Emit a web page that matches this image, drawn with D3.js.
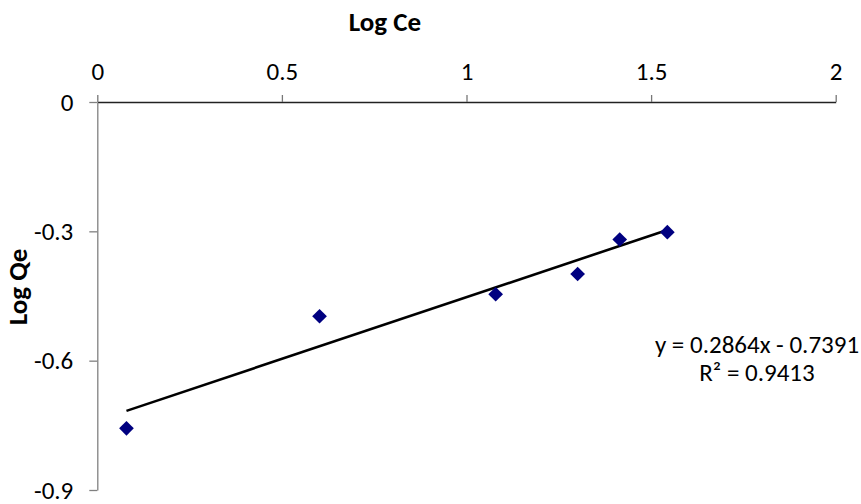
<!DOCTYPE html>
<html>
<head>
<meta charset="UTF-8">
<title>Log Qe vs Log Ce</title>
<script src="https://cdn.jsdelivr.net/npm/d3@7"></script>
<style>
  body { margin: 0; background: #fff; }
  svg { display: block; font-family: Carlito, Calibri, "Open Sans", sans-serif; }
</style>
</head>
<body>
<script>
// data
var logCe = [0.079, 0.602, 1.079, 1.301, 1.415, 1.544];
var logQe = [-0.757, -0.497, -0.446, -0.399, -0.319, -0.302];
var xTicks = [0, 0.5, 1, 1.5, 2];
var yTicks = [0, -0.3, -0.6, -0.9];
var slope = 0.2864, intercept = -0.7391, r2 = 0.9413;

var width = 861, height = 504;
var font = "Carlito, Calibri, Open Sans, sans-serif";

var svg = d3.select("body").append("svg")
  .attr("width", width)
  .attr("height", height);

var x = d3.scaleLinear().domain([0, 2]).range([97.3, 835.7]);
var y = d3.scaleLinear().domain([0, -0.9]).range([102, 490]);

// x axis sits on y = 0, labels above
var xAxis = svg.append("g")
  .attr("transform", "translate(0," + y(0) + ")")
  .call(d3.axisTop(x).tickValues(xTicks).tickSize(7).tickSizeOuter(0)
    .tickPadding(15).tickFormat(function(d){ return String(d); }));
xAxis.select(".domain").attr("stroke", "#222").attr("stroke-width", 1.3);
xAxis.selectAll(".tick line").attr("stroke", "#777").attr("stroke-width", 1.3);
xAxis.selectAll(".tick text").attr("font-size", 25).attr("fill", "#000")
  .attr("font-family", font);

var yAxis = svg.append("g")
  .attr("transform", "translate(" + x(0) + ",0)")
  .call(d3.axisLeft(y).tickValues(yTicks).tickSize(8).tickSizeOuter(0)
    .tickPadding(16).tickFormat(function(d){ return String(d); }));
yAxis.select(".domain").attr("stroke", "#808080").attr("stroke-width", 1.3);
yAxis.selectAll(".tick line").attr("stroke", "#808080").attr("stroke-width", 1.3);
yAxis.selectAll(".tick text").attr("font-size", 25).attr("fill", "#000")
  .attr("font-family", font);

// axis titles
svg.append("text")
  .attr("x", 385).attr("y", 30.5)
  .attr("text-anchor", "middle")
  .attr("font-size", 27).attr("font-weight", "bold")
  .text("Log Ce");

svg.append("text")
  .attr("transform", "translate(27,287) rotate(-90)")
  .attr("text-anchor", "middle")
  .attr("font-size", 27).attr("font-weight", "bold")
  .text("Log Qe");

// linear trend line over the data range
var x0 = d3.min(logCe), x1 = d3.max(logCe);
svg.append("line")
  .attr("x1", x(x0)).attr("y1", y(slope * x0 + intercept))
  .attr("x2", x(x1)).attr("y2", y(slope * x1 + intercept))
  .attr("stroke", "#000")
  .attr("stroke-width", 2.6);

// diamond markers
var diamond = d3.symbol().type(d3.symbolSquare).size(108);
svg.selectAll(".pt")
  .data(logCe)
  .enter().append("path")
  .attr("class", "pt")
  .attr("d", diamond)
  .attr("transform", function(d, i){
    return "translate(" + x(d) + "," + y(logQe[i]) + ") rotate(45)";
  })
  .attr("fill", "#000080");

// equation label
svg.append("text")
  .attr("x", 757).attr("y", 353)
  .attr("text-anchor", "middle")
  .attr("font-size", 25)
  .text("y = " + slope + "x - " + Math.abs(intercept));
svg.append("text")
  .attr("x", 757).attr("y", 381)
  .attr("text-anchor", "middle")
  .attr("font-size", 25)
  .text("R\u00b2 = " + r2);
</script>
</body>
</html>
